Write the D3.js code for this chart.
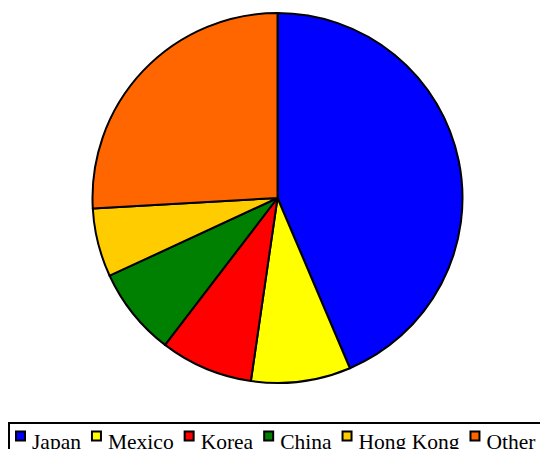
<!DOCTYPE html>
<html><head><meta charset="utf-8">
<script src="https://cdn.jsdelivr.net/npm/d3@7/dist/d3.min.js"></script>
<style>html,body{margin:0;padding:0;background:#fff;overflow:hidden}</style>
</head><body>
<script>
const categories = ["Japan", "Mexico", "Korea", "China", "Hong Kong", "Other"];
const values = [43.6, 8.7, 8.1, 7.7, 6.0, 25.9];
const colors = ["#0000ff", "#ffff00", "#ff0000", "#008000", "#ffcc00", "#ff6600"];

const W = 540, H = 449;
const svg = d3.select("body").append("svg").attr("width", W).attr("height", H);

const cx = 277.5, cy = 198, r = 185;
const pie = d3.pie().sort(null).value(d => d)(values);
const arc = d3.arc().innerRadius(0).outerRadius(r);
const color = d3.scaleOrdinal().domain(categories).range(colors);

svg.append("g").attr("transform", `translate(${cx},${cy})`)
  .selectAll("path").data(pie).join("path")
  .attr("d", arc)
  .attr("fill", (d, i) => color(categories[i]))
  .attr("stroke", "#000").attr("stroke-width", 2).attr("stroke-linejoin", "round");

// legend
svg.append("rect").attr("x", 9).attr("y", 423).attr("width", 560).attr("height", 60)
  .attr("fill", "#fff").attr("stroke", "#000").attr("stroke-width", 2);

const lg = svg.append("g");
let x = 16;
categories.forEach((c, i) => {
  lg.append("rect").attr("x", x).attr("y", 431.5).attr("width", 9).attr("height", 9)
    .attr("fill", color(c)).attr("stroke", "#000").attr("stroke-width", 2);
  const t = lg.append("text").attr("x", x + 16).attr("y", 449)
    .attr("font-family", "'Liberation Serif', 'Times New Roman', serif")
    .attr("font-size", 21.5).attr("fill", "#000").text(c);
  const w = t.node().getComputedTextLength();
  x = x + 16 + w + 11;
});
</script>
</body></html>
